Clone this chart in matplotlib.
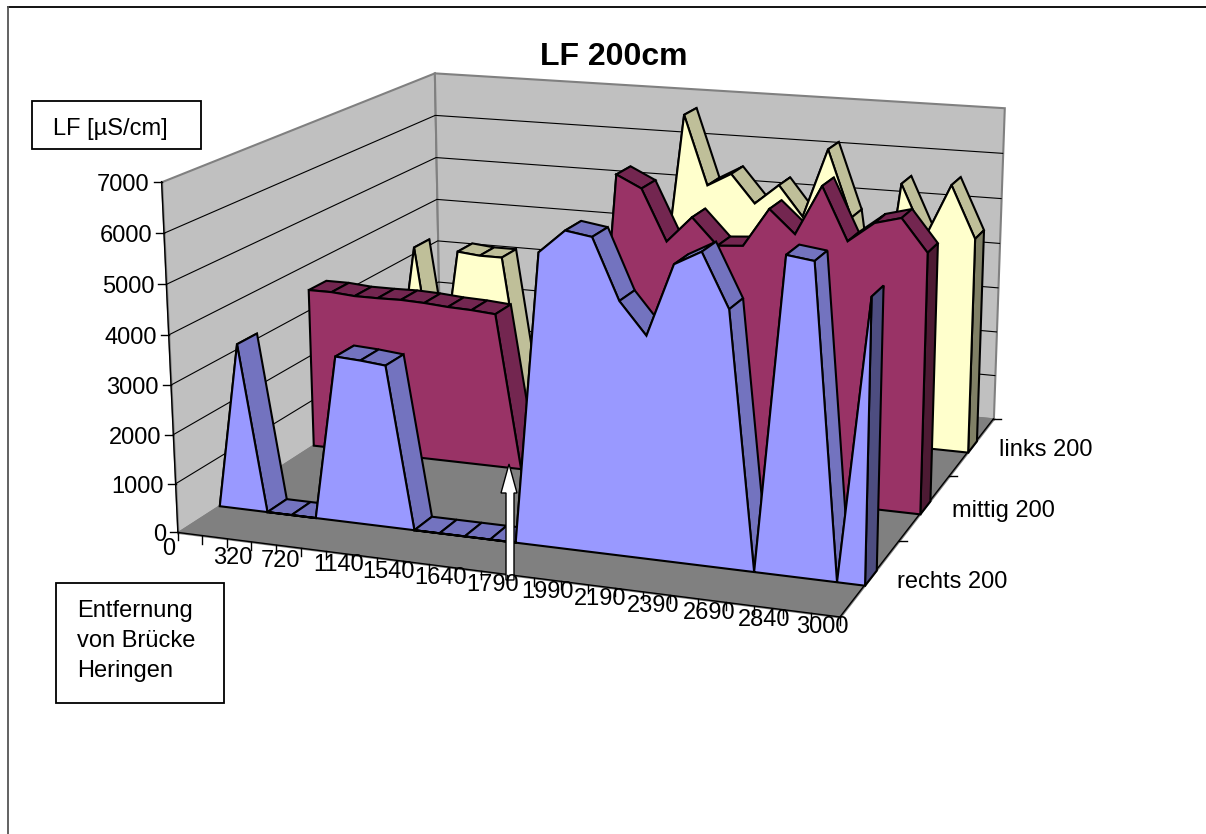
import matplotlib
matplotlib.use('Agg')
import matplotlib.pyplot as plt
from matplotlib.patches import Polygon, Rectangle
from mpl_toolkits.mplot3d import proj3d
from mpl_toolkits.mplot3d.art3d import Poly3DCollection
import numpy as np

# conductivity per measuring point, one list per row across the river
rechts_200 = [0, 3430, 0, 0, 0, 3380, 3350, 3300, 0, 0, 0, 0, 0,
              5810, 6270, 6190, 5010, 4390, 5800, 6080, 5040, 0, 6150, 6080, 0, 5510]
mittig_200 = [3460, 3460, 3420, 3420, 3430, 3410, 3370, 3350, 3310, 0, 0, 0, 0,
              6450, 6200, 5150, 5690, 5150, 5190, 5980, 5510, 6520, 5450, 5860, 6000, 5350]
links_200 = [0, 3470, 0, 3460, 3410, 3410, 0, 0, 0, 0, 0, 0, 2500,
             6910, 5400, 5690, 5080, 5520, 4870, 6370, 4930, 1500, 5740, 4620, 5790, 4680]
series_names = ['rechts 200', 'mittig 200', 'links 200']
distance_labels = ['0', '320', '720', '1140', '1540', '1640', '1790',
                   '1990', '2190', '2390', '2690', '2840', '3000']
z_ticks = [0, 1000, 2000, 3000, 4000, 5000, 6000, 7000]

W, H = 1206, 834
S = 800
NX = len(rechts_200) - 1
ZMAX = 7000
FONT = 'Liberation Sans'
LW = 1.5

fig = plt.figure(figsize=(W/100, H/100), dpi=100)
ax = fig.add_axes([(600.2-S/2)/W, (H-320.65-S/2)/H, S/W, S/H], projection='3d', computed_zorder=False)
ax.set_xlim(0, NX)
ax.set_ylim(0, 3)
ax.set_zlim(0, ZMAX)
ax.view_init(elev=14.8064, azim=-69.8345, roll=0.1629)
ax.set_proj_type('persp', focal_length=float(np.exp(-0.4744)))
ax.set_box_aspect((1.9102, 1.8219, 1), zoom=1.1682)
ax.set_axis_off()

order = [0]
def add_poly(verts, face, edge='black', lw=LW):
    order[0] += 1
    poly = Poly3DCollection([verts], facecolors=face, edgecolors=edge, linewidths=lw,
                            zorder=order[0], clip_on=False)
    poly.set_joinstyle('miter')
    ax.add_collection3d(poly, autolim=False)

def add_line(xs, ys, zs, color='black', lw=0.8):
    order[0] += 1
    ax.plot(xs, ys, zs, color=color, lw=lw, zorder=order[0], clip_on=False)

# walls and floor
add_poly([(0, 0, 0), (0, 3, 0), (0, 3, ZMAX), (0, 0, ZMAX)], '#C0C0C0', '#808080')
add_poly([(0, 3, 0), (NX, 3, 0), (NX, 3, ZMAX), (0, 3, ZMAX)], '#C0C0C0', '#808080')
add_poly([(0, 0, 0), (NX, 0, 0), (NX, 3, 0), (0, 3, 0)], '#808080', '#808080')
for z in z_ticks[1:-1]:
    add_line([0, 0, NX], [0, 3, 3], [z, z, z])
add_line([0, 0], [0, 0], [0, ZMAX], lw=1.0)
add_line([0, NX, NX], [0, 0, 3], [0, 0, 0], lw=1.0)

# each series is a slab: top strips, end cap, then the front face over them
def draw_slab(values, row, face, strip, cap):
    y0, y1 = row + 0.4, row + 0.6
    for i in range(NX):
        add_poly([(i, y0, values[i]), (i+1, y0, values[i+1]),
                  (i+1, y1, values[i+1]), (i, y1, values[i])], strip)
    add_poly([(NX, y0, 0), (NX, y1, 0), (NX, y1, values[NX]), (NX, y0, values[NX])], cap)
    front = [(i, y0, v) for i, v in enumerate(values)]
    add_poly([(0, y0, 0)] + front + [(NX, y0, 0)], face)

draw_slab(links_200, 2, '#FFFFCC', '#BFBF99', '#808066')
draw_slab(mittig_200, 1, '#993366', '#732650', '#4D1A33')
draw_slab(rechts_200, 0, '#9999FF', '#7373BF', '#4D4D80')

def to_px(x, y, z):
    X, Y, _ = proj3d.proj_transform(np.array([x], float), np.array([y], float),
                                    np.array([z], float), ax.get_proj())
    q = ax.transData.transform(np.column_stack([X, Y]))[0]
    return q[0], H - q[1]

# ticks, labels and boxes live on a flat overlay in pixel coordinates
over = fig.add_axes([0, 0, 1, 1], zorder=5)
over.set_xlim(0, W)
over.set_ylim(H, 0)
over.axis('off')

def label(x, y, s, ha='center', size=17, **kw):
    over.text(x, y, s, ha=ha, va='center', fontsize=size, family=FONT, **kw)

over.plot([7.5, W], [6.5, 6.5], color='black', lw=1.3)
over.plot([7.5, 7.5], [6.5, H], color='#555555', lw=1.3)

for z in z_ticks:
    px, py = to_px(0, 0, z)
    over.plot([px-8, px], [py, py], color='black', lw=1.0)
    label(px-12, py+3, str(z), ha='right')

for i in range(NX+1):
    px, py = to_px(i, 0, 0)
    over.plot([px, px], [py, py+8], color='black', lw=1.0)

xt_dx = [-9, 6, 4, 12, 11, 12, 12, 13, 12, 11, 11, 10, 11]
xt_dy = [17, 19, 16, 14, 14, 14, 14, 14, 14, 14, 14, 14, 14]
for n, s in enumerate(distance_labels):
    px, py = to_px(2*n, 0, 0)
    label(px+xt_dx[n], py+xt_dy[n], s)

for y in [1, 2, 3]:
    px, py = to_px(NX, y, 0)
    over.plot([px, px+8], [py, py], color='black', lw=1.0)
for row, s in enumerate(series_names):
    px, py = to_px(NX, row+0.5, 0)
    label(px+27, py+4, s, ha='left')

label(614, 57, 'LF 200cm', size=23, fontweight='bold')

over.add_patch(Rectangle((32, 101), 169, 48, fc='white', ec='black', lw=1.3))
label(53, 129, 'LF [µS/cm]', ha='left')
over.add_patch(Rectangle((56, 583), 168, 120, fc='white', ec='black', lw=1.3))
label(77, 611, 'Entfernung', ha='left')
label(77, 641, 'von Brücke', ha='left')
label(77, 671, 'Heringen', ha='left')

# arrow marking the bridge position
over.add_patch(Polygon([(509, 464), (517, 493), (514, 493), (514, 580), (506, 580),
                        (506, 493), (501, 493)], closed=True, fc='white', ec='black', lw=1.0))

fig.savefig('out.png', dpi=100)
